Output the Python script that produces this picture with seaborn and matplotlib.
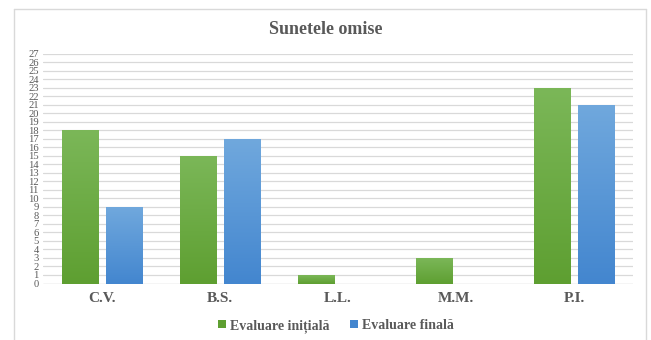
import numpy as np
import pandas as pd
import matplotlib
matplotlib.use("Agg")
import matplotlib.pyplot as plt
import seaborn as sns
from matplotlib.colors import LinearSegmentedColormap
from matplotlib.patches import Rectangle
from matplotlib.lines import Line2D

students = ["C.V.", "B.S.", "L.L.", "M.M.", "P.I."]
initial_scores = [18, 15, 1, 3, 23]
final_scores = [9, 17, 0, 0, 21]
series_names = ["Evaluare inițială", "Evaluare finală"]
y_ticks = list(range(0, 28))

df = pd.DataFrame({
    "elev": students * 2,
    "valoare": initial_scores + final_scores,
    "evaluare": [series_names[0]] * len(students) + [series_names[1]] * len(students),
})

sns.set_theme(style="white")
plt.rcParams["font.family"] = ["Liberation Serif", "DejaVu Serif"]

text_gray = "#595959"
green_top, green_bot = "#7bb758", "#5e9f31"
blue_top, blue_bot = "#70a8dd", "#4386cf"

fig = plt.figure(figsize=(6.51, 3.40), dpi=100)
ax = fig.add_axes([43 / 651, 1 - 283.5 / 340, 590 / 651, 230 / 340])

sns.barplot(data=df, x="elev", y="valoare", hue="evaluare",
            palette=[green_bot, blue_bot], width=0.75, gap=0.18,
            ax=ax, legend=False, saturation=1, edgecolor="none")

# vertical gradient fill on each bar
gradients = {
    green_bot: LinearSegmentedColormap.from_list("g", [green_bot, green_top]),
    blue_bot: LinearSegmentedColormap.from_list("b", [blue_bot, blue_top]),
}
grad = np.linspace(0, 1, 256).reshape(-1, 1)
for patch in list(ax.patches):
    x0, y0 = patch.get_x(), patch.get_y()
    w, h = patch.get_width(), patch.get_height()
    if h <= 0:
        continue
    fc = matplotlib.colors.to_hex(patch.get_facecolor())
    cmap = gradients.get(fc, gradients[green_bot])
    im = ax.imshow(grad, cmap=cmap, aspect="auto", origin="lower",
                   extent=[x0, x0 + w, y0, y0 + h], zorder=patch.get_zorder() + 0.1)
    im.set_clip_path(patch)

ax.set_xlim(-0.5, 4.5)
ax.set_ylim(0, 27)
ax.set_yticks(y_ticks)
ax.set_yticklabels([str(t) for t in y_ticks], fontsize=7.6, color=text_gray)
ax.tick_params(axis="y", length=0, pad=3)
ax.tick_params(axis="x", length=0, pad=6)
for lbl in ax.get_xticklabels():
    lbl.set_fontsize(11)
    lbl.set_fontweight("bold")
    lbl.set_color(text_gray)
ax.set_xlabel("")
ax.set_ylabel("")
ax.grid(axis="y", color="#d9d9d9", linewidth=0.9)
ax.set_axisbelow(True)
for s in ax.spines.values():
    s.set_visible(False)
ax.axhline(0, color="#d9d9d9", linewidth=0.9, zorder=0.5)

fig.text(0.5, 1 - 30 / 340, "Sunetele omise", ha="center", va="center",
         fontsize=13, fontweight="bold", color=text_gray)

handles = [Rectangle((0, 0), 1, 1, facecolor=green_bot, edgecolor="none"),
           Rectangle((0, 0), 1, 1, facecolor=blue_bot, edgecolor="none")]
fig.legend(handles, series_names, loc="center", bbox_to_anchor=(336 / 651, 1 - 326 / 340),
           ncol=2, frameon=False, handlelength=0.55, handleheight=0.55,
           handletextpad=0.3, columnspacing=1.5,
           prop={"family": "Liberation Serif", "weight": "bold", "size": 10},
           labelcolor=text_gray)

# outer chart frame
frame_color = "#d9d9d9"
for coords in [([14, 14], [9, 340]), ([646, 646], [9, 340]), ([14, 646], [9, 9])]:
    fig.add_artist(Line2D([c / 651 for c in coords[0]], [1 - c / 340 for c in coords[1]],
                          color=frame_color, linewidth=1.0, transform=fig.transFigure))

fig.savefig("out.png", dpi=100, facecolor="white")
